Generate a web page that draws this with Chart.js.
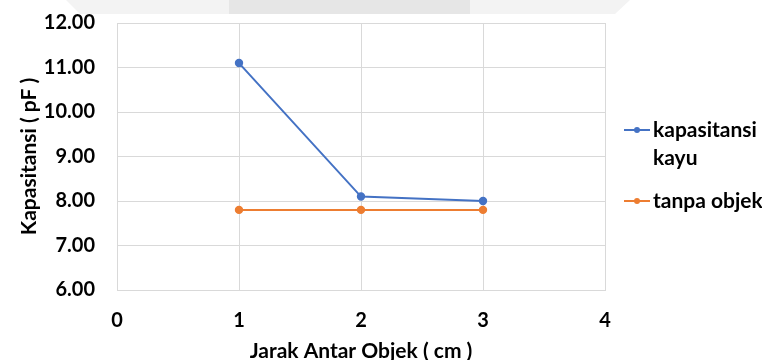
<!DOCTYPE html>
<html>
<head>
<meta charset="utf-8">
<script src="https://cdn.jsdelivr.net/npm/chart.js@4/dist/chart.umd.min.js"></script>
<style>
  html, body { margin: 0; padding: 0; background: #ffffff; overflow: hidden; }
  #wrap { width: 762px; height: 360px; }
</style>
</head>
<body>
<div id="wrap"><canvas id="c" width="762" height="360"></canvas></div>
<script>
// Distance between objects (cm)
const jarak = [1, 2, 3];
// Measured capacitance (pF)
const kapasitansiKayu = [11.10, 8.10, 8.00];
const tanpaObjek = [7.80, 7.80, 7.80];
const seriesNames = [['kapasitansi', 'kayu'], ['tanpa objek']];
const xTicks = [0, 1, 2, 3, 4];
const yTicks = [6, 7, 8, 9, 10, 11, 12];

const FONT = 'Lato, "Open Sans", sans-serif';
const BLUE = '#4472c4';
const ORANGE = '#ed7d31';
const GRID = '#d9d9d9';

// Faint header band behind the chart
const headerBand = {
  id: 'headerBand',
  beforeDraw(chart) {
    const ctx = chart.ctx;
    ctx.save();
    ctx.fillStyle = '#f3f3f3';
    ctx.beginPath();
    ctx.moveTo(66, 0); ctx.lineTo(630, 0); ctx.lineTo(615, 14); ctx.lineTo(80, 14);
    ctx.closePath(); ctx.fill();
    ctx.fillStyle = '#e6e6e6';
    ctx.fillRect(229, 0, 241, 14);
    ctx.restore();
  }
};

// Legend on the right, with a wrapped label for the first series
const sideLegend = {
  id: 'sideLegend',
  afterDraw(chart) {
    const ctx = chart.ctx;
    ctx.save();
    ctx.font = 'bold 21px ' + FONT;
    ctx.textBaseline = 'middle';
    ctx.textAlign = 'left';
    let y = 130;
    chart.data.datasets.forEach((ds) => {
      ctx.strokeStyle = ds.borderColor;
      ctx.lineWidth = 2;
      ctx.beginPath(); ctx.moveTo(624, y); ctx.lineTo(650, y); ctx.stroke();
      ctx.fillStyle = ds.borderColor;
      ctx.beginPath(); ctx.arc(637, y, 3, 0, Math.PI * 2); ctx.fill();
      ctx.fillStyle = '#000000';
      ds.legendLines.forEach((t, i) => ctx.fillText(t, 653, y + i * 28));
      y += ds.legendLines.length * 28 + 15;
    });
    ctx.restore();
  }
};

const toPoints = (ys) => jarak.map((x, i) => ({ x: x, y: ys[i] }));

new Chart(document.getElementById('c'), {
  type: 'line',
  data: {
    datasets: [
      {
        label: seriesNames[0].join(' '),
        legendLines: seriesNames[0],
        data: toPoints(kapasitansiKayu),
        borderColor: BLUE, backgroundColor: BLUE,
        borderWidth: 2, pointRadius: 3.2, pointHoverRadius: 3.2, tension: 0
      },
      {
        label: seriesNames[1].join(' '),
        legendLines: seriesNames[1],
        data: toPoints(tanpaObjek),
        borderColor: ORANGE, backgroundColor: ORANGE,
        borderWidth: 2, pointRadius: 3.2, pointHoverRadius: 3.2, tension: 0
      }
    ]
  },
  options: {
    responsive: false,
    animation: false,
    events: [],
    layout: { padding: { top: 23, right: 157, left: 0, bottom: 0 } },
    plugins: { legend: { display: false }, tooltip: { enabled: false } },
    scales: {
      x: {
        type: 'linear', min: 0, max: 4,
        afterBuildTicks(scale) { scale.ticks = xTicks.map(v => ({ value: v })); },
        afterFit(scale) { scale.height = 70; },
        grid: { color: GRID, lineWidth: 1, drawTicks: false },
        border: { color: GRID, width: 1 },
        ticks: { color: '#000000', padding: 19, font: { family: FONT, size: 20, weight: 'bold' } },
        title: {
          display: true, text: 'Jarak Antar Objek ( cm )', color: '#000000',
          font: { family: FONT, size: 21, weight: 'bold', lineHeight: 1 },
          padding: { top: 0, bottom: -2 }
        }
      },
      y: {
        type: 'linear', min: 6, max: 12,
        afterBuildTicks(scale) { scale.ticks = yTicks.map(v => ({ value: v })); },
        afterFit(scale) { scale.width = 117; scale.paddingTop = 0; scale.paddingBottom = 0; },
        grid: { color: GRID, lineWidth: 1, drawTicks: false },
        border: { color: GRID, width: 1 },
        ticks: {
          color: '#000000', padding: 22,
          font: { family: FONT, size: 20, weight: 'bold' },
          callback: (v) => Number(v).toFixed(2)
        },
        title: {
          display: true, text: 'Kapasitansi ( pF )', color: '#000000',
          font: { family: FONT, size: 21, weight: 'bold', lineHeight: 1 },
          padding: { top: 19, bottom: 0 }
        }
      }
    }
  },
  plugins: [headerBand, sideLegend]
});
</script>
</body>
</html>
